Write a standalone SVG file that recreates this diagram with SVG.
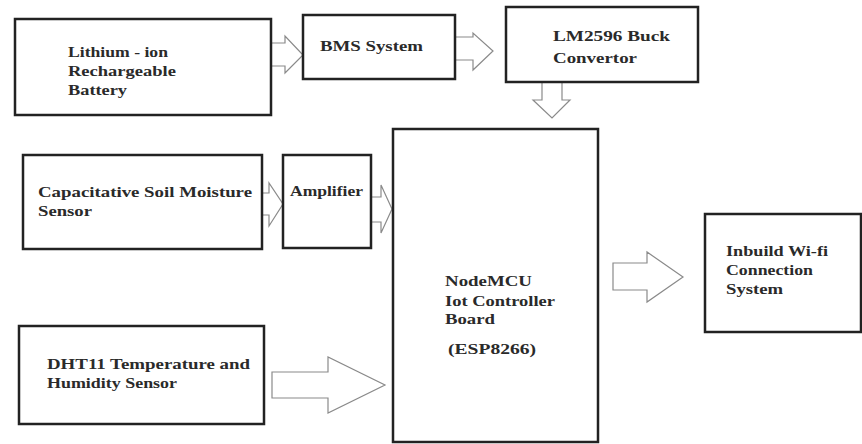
<svg xmlns="http://www.w3.org/2000/svg" width="862" height="444" viewBox="0 0 862 444">
<style>
.box{fill:#fff;stroke:#222;stroke-width:2.5}
.arr{fill:#fff;stroke:#8a8a8a;stroke-width:1.2;stroke-linejoin:miter}
.t{font-family:'Liberation Serif','DejaVu Serif',serif;font-weight:bold;font-size:15px;fill:#2a2a2a}
</style>
<rect width="862" height="444" fill="#fff"/>
<g id="connectors">
<polygon class="arr" points="271,43 285,43 285,36 303,55 285,73 285,66 271,66"/>
<polygon class="arr" points="455,37 473,37 473,33 493,51 473,70 473,60 455,60"/>
<polygon class="arr" points="542,82 562,82 562,100 570,100 552,118 533,100 542,100"/>
<polygon class="arr" points="262,193 269,193 269,183 283,204 269,226 269,215 262,215"/>
<polygon class="arr" points="371,197 381,197 381,185 392,209 381,233 381,222 371,222"/>
<polygon class="arr" points="272,372 328,372 328,357 385,385 328,413 328,398 272,398"/>
<polygon class="arr" points="613,263 647,263 647,252 683,277 647,302 647,290 613,290"/>
</g>
<g id="battery" class="t">
<rect class="box" x="15" y="19" width="256" height="96"/>
<text x="68" y="57" textLength="100" lengthAdjust="spacingAndGlyphs">Lithium - ion</text>
<text x="68" y="76" textLength="108" lengthAdjust="spacingAndGlyphs">Rechargeable</text>
<text x="68" y="95" textLength="59" lengthAdjust="spacingAndGlyphs">Battery</text>
</g>
<g id="bms" class="t">
<rect class="box" x="303" y="15" width="152" height="64"/>
<text x="320" y="51" textLength="103" lengthAdjust="spacingAndGlyphs">BMS System</text>
</g>
<g id="buck" class="t">
<rect class="box" x="506" y="7" width="192" height="75"/>
<text x="553" y="41" textLength="117" lengthAdjust="spacingAndGlyphs">LM2596 Buck</text>
<text x="553" y="63" textLength="84" lengthAdjust="spacingAndGlyphs">Convertor</text>
</g>
<g id="nodemcu" class="t">
<rect class="box" x="393" y="129" width="205" height="313"/>
<text x="445" y="286" textLength="87" lengthAdjust="spacingAndGlyphs">NodeMCU</text>
<text x="445" y="306" textLength="110" lengthAdjust="spacingAndGlyphs">Iot Controller</text>
<text x="445" y="324" textLength="50" lengthAdjust="spacingAndGlyphs">Board</text>
<text x="448" y="354" textLength="88" lengthAdjust="spacingAndGlyphs">(ESP8266)</text>
</g>
<g id="soil" class="t">
<rect class="box" x="23" y="155" width="239" height="94"/>
<text x="38" y="197" textLength="214" lengthAdjust="spacingAndGlyphs">Capacitative Soil Moisture</text>
<text x="38" y="216" textLength="54" lengthAdjust="spacingAndGlyphs">Sensor</text>
</g>
<g id="amplifier" class="t">
<rect class="box" x="283" y="155" width="88" height="93"/>
<text x="290" y="196" textLength="73" lengthAdjust="spacingAndGlyphs">Amplifier</text>
</g>
<g id="dht11" class="t">
<rect class="box" x="19" y="326" width="245" height="98"/>
<text x="47" y="369" textLength="203" lengthAdjust="spacingAndGlyphs">DHT11 Temperature and</text>
<text x="47" y="388" textLength="130" lengthAdjust="spacingAndGlyphs">Humidity Sensor</text>
</g>
<g id="wifi" class="t">
<rect class="box" x="705" y="214" width="156" height="118"/>
<text x="726" y="256" textLength="102" lengthAdjust="spacingAndGlyphs">Inbuild Wi-fi</text>
<text x="726" y="275" textLength="87" lengthAdjust="spacingAndGlyphs">Connection</text>
<text x="726" y="294" textLength="57" lengthAdjust="spacingAndGlyphs">System</text>
</g>
</svg>
